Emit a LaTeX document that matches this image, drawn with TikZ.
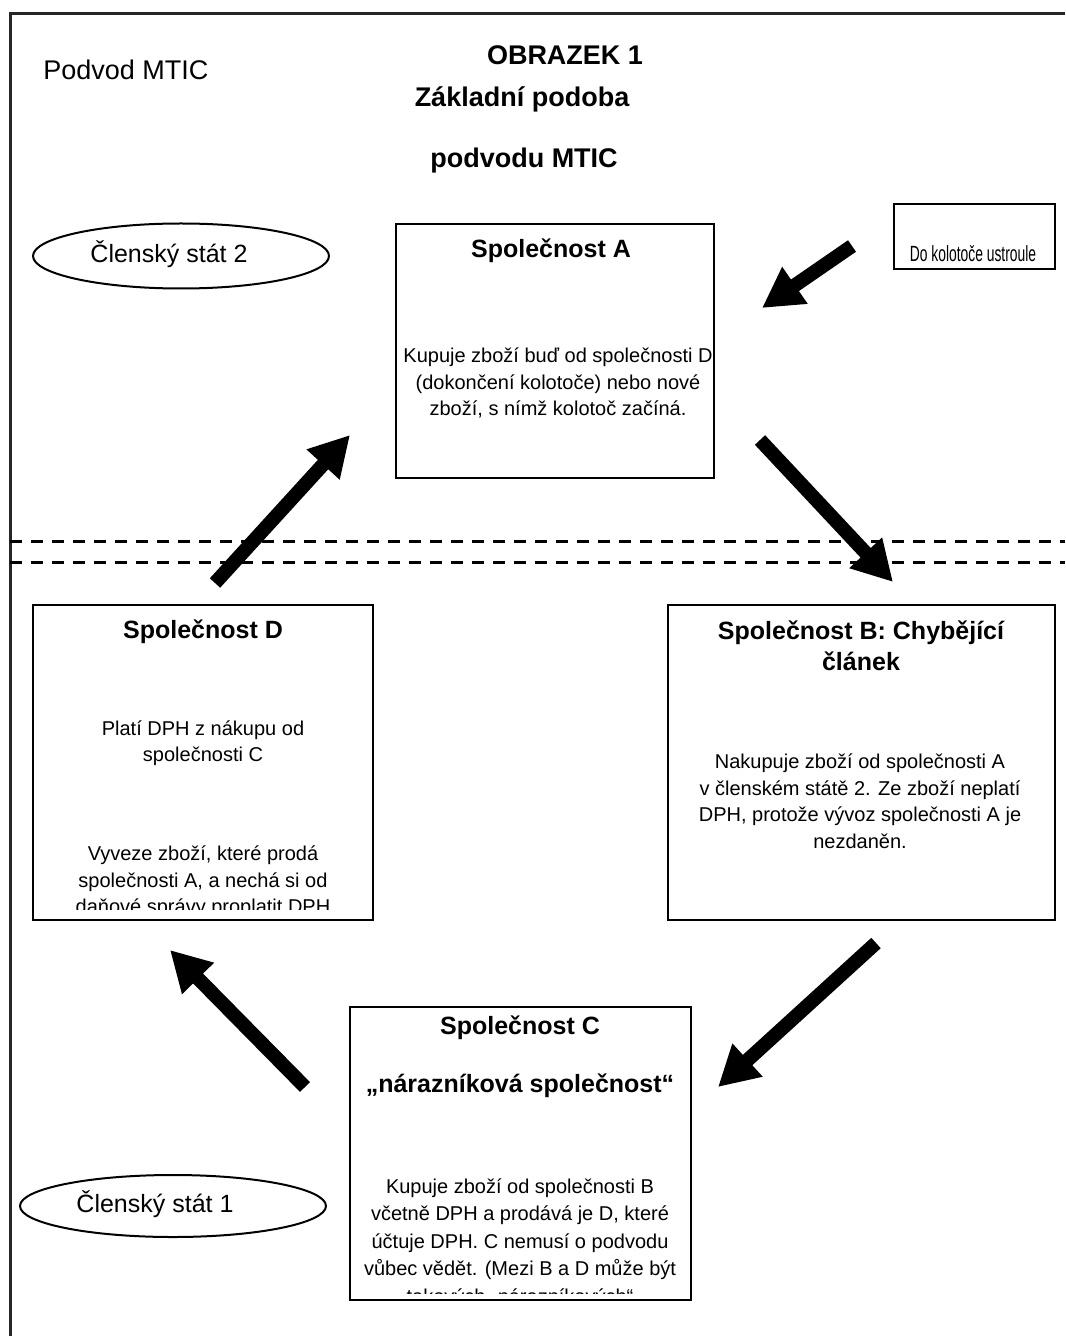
\documentclass[tikz,border=0pt]{standalone}
\usepackage{fontspec}
\setmainfont{Liberation Sans}
\usetikzlibrary{arrows.meta,shapes.geometric}
\begin{document}
\begin{tikzpicture}[x=0.5pt,y=-0.5pt,
  box/.style={draw, line width=1pt, inner sep=0pt},
  oval/.style={draw, ellipse, line width=1pt, inner sep=0pt},
  body/.style={font=\fontsize{10}{13.25}\selectfont, align=center, inner sep=0pt},
  ttl/.style={font=\bfseries\fontsize{12.5}{15.5}\selectfont, align=center, inner sep=0pt},
  head/.style={font=\bfseries\fontsize{13.5}{16}\selectfont, inner sep=0pt},
  plain/.style={font=\fontsize{13.5}{16}\selectfont, inner sep=0pt},
  ovaltext/.style={font=\fontsize{12.5}{15}\selectfont, inner sep=0pt},
  bigarrow/.style={line width=7pt, -{Triangle[length=20pt,width=21pt]}},
  divider/.style={line width=1.5pt, dash pattern=on 6pt off 4.5pt},
  frameline/.style={line width=1.5pt, draw=black!85}]
\useasboundingbox (0,0) rectangle (1065,1336);

% frame
\coordinate (fTL) at (10,14);
\coordinate (fTR) at (1065,14);
\coordinate (fBL) at (10,1336);
\draw[frameline] (fTR) -- (fTL) -- (fBL);

% dashed dividers
\coordinate (d1l) at (10,541);
\coordinate (d1r) at (1065,541);
\coordinate (d2l) at (10,562);
\coordinate (d2r) at (1065,562);
\draw[divider] (d1l) -- (d1r);
\draw[divider] (d2l) -- (d2r);

% headings
\node[plain, anchor=west] (podvod) at (43,70) {Podvod MTIC};
\node[head] (obr) at (565,55) {OBRAZEK 1};
\node[head] (zakl) at (522,99) {Základní podoba};
\node[head] (pmtic) at (524,161) {podvodu MTIC};

% ellipses
\node[oval, minimum width=148pt, minimum height=32.5pt] (cs2) at (181,256) {};
\node[ovaltext] (cs2t) at (169,254) {Členský stát 2};
\node[oval, minimum width=153pt, minimum height=31pt] (cs1) at (173,1206) {};
\node[ovaltext] (cs1t) at (155,1204) {Členský stát 1};

% small box
\node[box, minimum width=80.5pt, minimum height=32.5pt] (small) at (974.5,236.5) {};
\node[inner sep=0pt] (smallt) at (973,254) {\scalebox{0.63}[1]{\fontsize{11}{13}\selectfont Do kolotoče ustroule}};

% box A
\node[box, minimum width=159pt, minimum height=127pt] (A) at (555,351) {};
\node[ttl] (At) at (551,251) {Společnost A};
\node[body] (Ab) at (558,383) {Kupuje zboží buď od společnosti D\\(dokončení kolotoče) nebo nové\\zboží, s nímž kolotoč začíná.};

% box B
\node[box, minimum width=193.5pt, minimum height=157.5pt] (B) at (861.5,762.5) {};
\node[ttl] (Bt) at (861,645.5) {Společnost B: Chybějící\\článek};
\node[body] (Bb) at (860,801) {Nakupuje zboží od společnosti A\\v členském státě 2. Ze zboží neplatí\\DPH, protože vývoz společnosti A je\\nezdaněn.};

% box D
\node[box, minimum width=170pt, minimum height=157.5pt] (D) at (203,762.5) {};
\node[ttl] (Dt) at (203,632) {Společnost D};
\node[body] (Db1) at (203,743) {Platí DPH z nákupu od\\společnosti C};
\begin{scope}
  \clip (33,605) rectangle (373,909);
  \node[body] (Db2) at (203,882) {Vyveze zboží, které prodá\\společnosti A, a nechá si od\\daňové správy proplatit DPH};
\end{scope}

% box C
\node[box, minimum width=170.5pt, minimum height=146.5pt] (C) at (520.5,1153.5) {};
\node[ttl] (Ct) at (520,1028) {Společnost C};
\node[ttl] (Ct2) at (520,1086) {„nárazníková společnost“};
\begin{scope}
  \clip (350,1007) rectangle (691,1293);
  \node[body, font=\fontsize{10}{13.7}\selectfont] (Cb) at (520,1243) {Kupuje zboží od společnosti B\\včetně DPH a prodává je D, které\\účtuje DPH. C nemusí o podvodu\\vůbec vědět. (Mezi B a D může být\\takových „nárazníkových“};
\end{scope}

% arrows
\coordinate (a1s) at (852,246);
\coordinate (a1e) at (762,308);
\coordinate (a2s) at (760,440);
\coordinate (a2e) at (893,582);
\coordinate (a3s) at (876,943);
\coordinate (a3e) at (718,1087);
\coordinate (a4s) at (305,1087);
\coordinate (a4e) at (170,950);
\coordinate (a5s) at (215,583);
\coordinate (a5e) at (350,435);
\draw[bigarrow] (a1s) -- (a1e);
\draw[bigarrow] (a2s) -- (a2e);
\draw[bigarrow] (a3s) -- (a3e);
\draw[bigarrow] (a4s) -- (a4e);
\draw[bigarrow] (a5s) -- (a5e);
\end{tikzpicture}
\end{document}
